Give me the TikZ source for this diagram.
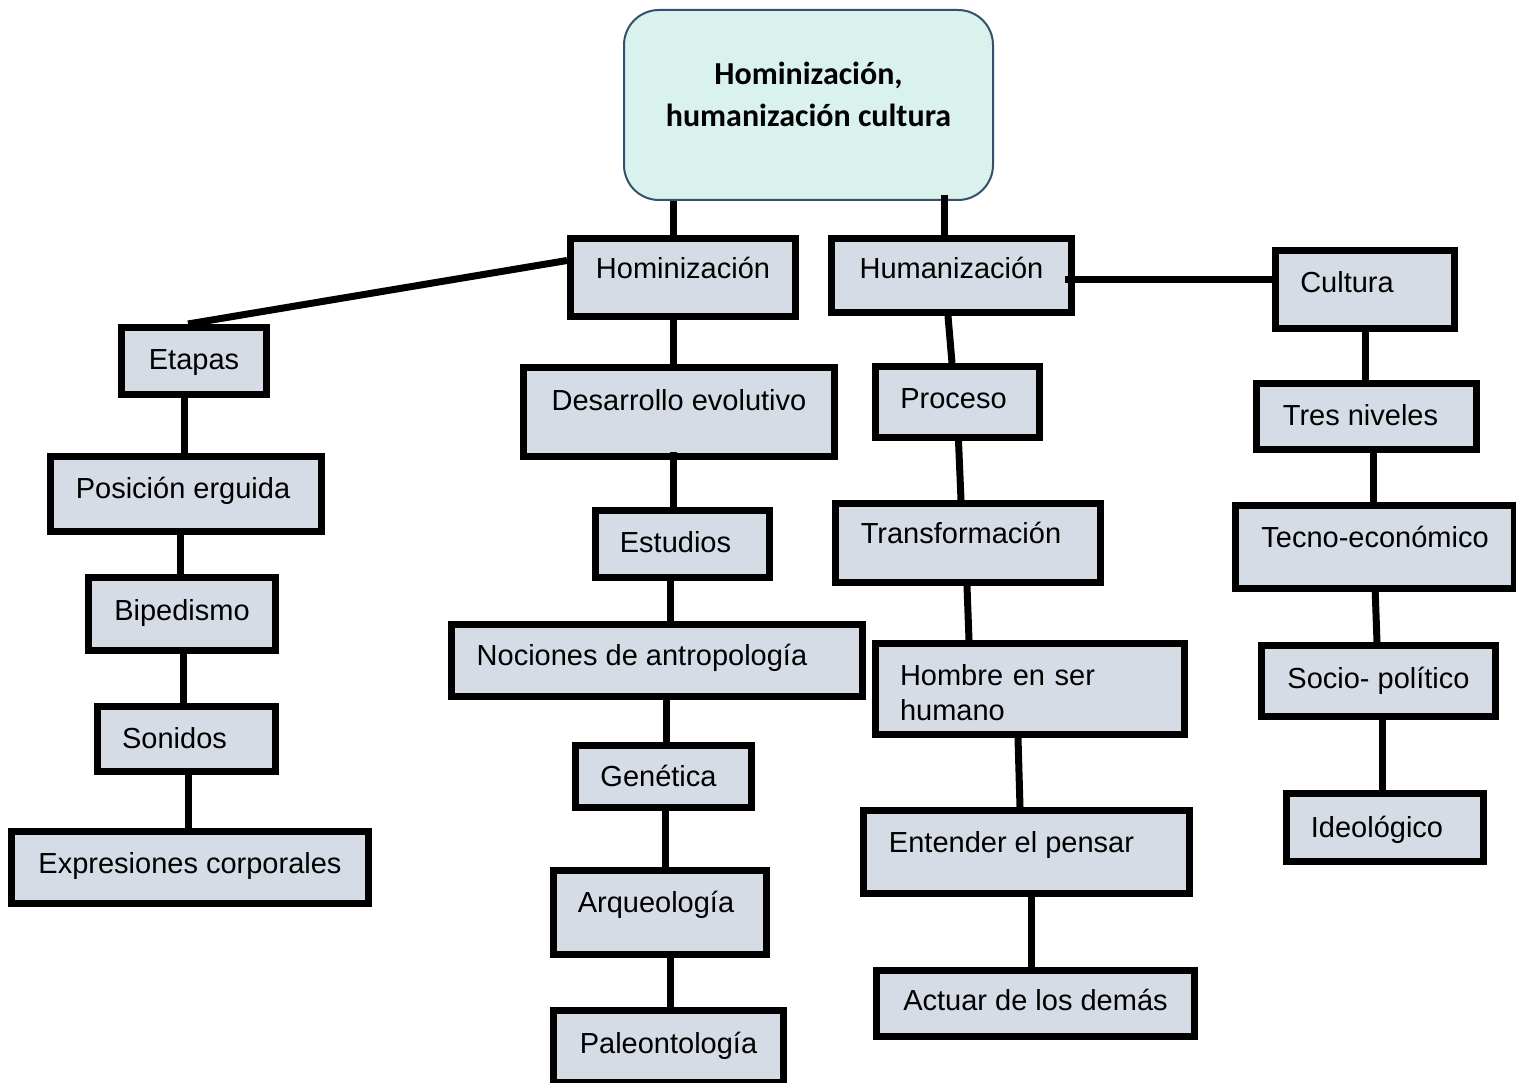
\documentclass[tikz,border=0pt]{standalone}
\usepackage{fontspec}
\setmainfont{Liberation Sans}
\newfontfamily\titlefont{Carlito}
\definecolor{boxfill}{HTML}{D6DCE5}
\definecolor{topfill}{HTML}{DAF2EE}
\definecolor{topline}{HTML}{34506A}

\begin{document}
\begin{tikzpicture}[x=1pt, y=-1pt,
    main node/.style={rectangle, draw=black, fill=boxfill, line width=7pt, inner sep=0pt,
        font=\fontsize{29}{35}\selectfont},
    tdepth/.style={text height=21pt, text depth=#1},
    title node/.style={rectangle, rounded corners=35pt, draw=topline, fill=topfill, line width=2pt,
        inner sep=0pt, align=center, font=\titlefont\bfseries\fontsize{32}{42}\selectfont}]

    \useasboundingbox (0,0) rectangle (1516,1083);

    \node[title node, minimum width=369pt, minimum height=190pt] (main) at (808.5,105)
        {Hominización,\\humanización cultura\rule[-22pt]{0pt}{22pt}};

    % hominizacion
    \node[main node, minimum width=225pt, minimum height=78pt, tdepth=18pt] (hom) at (683,277.5) {Hominización};
    \node[main node, minimum width=145pt, minimum height=67pt, tdepth=3pt] (eta) at (194,361) {Etapas};
    \node[main node, minimum width=271pt, minimum height=75pt, tdepth=13pt] (pos) at (186,494) {Posición erguida\hspace*{6pt}};
    \node[main node, minimum width=187pt, minimum height=73pt, tdepth=9pt] (bip) at (182,614) {Bipedismo};
    \node[main node, minimum width=178pt, minimum height=65pt, tdepth=3pt] (son) at (186.5,739) {Sonidos\hspace*{24pt}};
    \node[main node, minimum width=357pt, minimum height=72pt, tdepth=10pt] (expr) at (190,867.5) {Expresiones corporales};
    \node[main node, minimum width=311pt, minimum height=89pt, tdepth=25pt] (des) at (679,412) {Desarrollo evolutivo};
    \node[main node, minimum width=174pt, minimum height=67pt, tdepth=5pt] (est) at (682.5,544) {Estudios\hspace*{14pt}};
    \node[main node, minimum width=411pt, minimum height=72pt, tdepth=12pt] (noc) at (657,660.5) {Nociones de antropología\hspace*{30pt}};
    \node[main node, minimum width=176pt, minimum height=62pt, tdepth=2pt] (gen) at (663.5,776.5) {Genética\hspace*{10pt}};
    \node[main node, minimum width=213pt, minimum height=84pt, tdepth=22pt] (arq) at (660,912.5) {Arqueología\hspace*{8pt}};
    \node[main node, minimum width=230pt, minimum height=72pt, tdepth=8pt] (pal) at (668.5,1046.5) {Paleontología};

    % humanizacion
    \node[main node, minimum width=240pt, minimum height=74pt, tdepth=14pt] (hum) at (951.5,275.5) {Humanización};
    \node[main node, minimum width=164pt, minimum height=71pt, tdepth=9pt] (pro) at (957.5,402) {Proceso\hspace*{8pt}};
    \node[main node, minimum width=265pt, minimum height=79pt, tdepth=21pt] (tra) at (968,543) {Transformación\hspace*{14pt}};
    \node[main node, minimum width=309pt, minimum height=91pt, align=left, text width=260pt] (hsh) at (1030,689) {\rule{0pt}{29pt}Hombre en ser\\humano};
    \node[main node, minimum width=326pt, minimum height=83pt, tdepth=21pt] (ent) at (1026.5,852) {Entender el pensar\hspace*{30pt}};
    \node[main node, minimum width=318pt, minimum height=66pt, tdepth=8pt] (act) at (1035.5,1003.5) {Actuar de los demás};

    % cultura
    \node[main node, minimum width=179pt, minimum height=78pt, tdepth=14pt] (cul) at (1365,289.5) {Cultura\hspace*{36pt}};
    \node[main node, minimum width=220pt, minimum height=66pt, tdepth=4pt] (tres) at (1366.5,416.5) {Tres niveles\hspace*{12pt}};
    \node[main node, minimum width=279pt, minimum height=83pt, tdepth=21pt] (tec) at (1375,547) {Tecno-económico};
    \node[main node, minimum width=234pt, minimum height=71pt, tdepth=7pt] (soc) at (1378.5,681) {Socio- político};
    \node[main node, minimum width=197pt, minimum height=68pt, tdepth=2pt] (ideo) at (1385,827.5) {Ideológico\hspace*{16pt}};

    \path[line width=7pt]
        ([xshift=-135.5pt]main.south) edge ([xshift=-10pt]hom.north)
        ([xshift=135.5pt, yshift=6pt]main.south) edge ([xshift=-7.5pt]hum.north)
        ([yshift=17pt]hom.west) edge ([xshift=-6pt]eta.north)
        ([xshift=-10pt]hom.south) edge ([xshift=-6pt]des.north)
        ([xshift=-6pt, yshift=8pt]des.south) edge ([xshift=-9.5pt]est.north)
        ([xshift=-12.5pt, yshift=6pt]est.south) edge ([xshift=13pt]noc.north)
        ([xshift=9pt]noc.south) edge ([xshift=2.5pt]gen.north)
        ([xshift=1.5pt]gen.south) edge ([xshift=5pt]arq.north)
        ([xshift=10pt]arq.south) edge ([xshift=1.5pt]pal.north)
        ([xshift=-10pt, yshift=6pt]eta.south) edge ([xshift=-2pt]pos.north)
        ([xshift=-6pt]pos.south) edge ([xshift=-2pt]bip.north)
        ([xshift=1pt]bip.south) edge ([xshift=-3.5pt]son.north)
        ([xshift=1.5pt]son.south) edge ([xshift=-2pt]expr.north)
        ([xshift=-3.5pt]hum.south) edge ([xshift=-5.5pt]pro.north)
        ([xshift=1pt]pro.south) edge ([xshift=-7pt]tra.north)
        ([xshift=-1pt]tra.south) edge ([xshift=-61pt]hsh.north)
        ([xshift=-12pt]hsh.south) edge ([xshift=-6.5pt]ent.north)
        ([xshift=4.5pt]ent.south) edge ([xshift=-4.5pt]act.north)
        ([xshift=-10pt, yshift=-4.5pt]hum.east) edge ([yshift=9.5pt]cul.west)
        (cul.south) edge ([xshift=-1.5pt]tres.north)
        ([xshift=6.5pt]tres.south) edge ([xshift=-2pt]tec.north)
        ([yshift=6pt]tec.south) edge ([xshift=-1.5pt]soc.north)
        ([xshift=3.5pt]soc.south) edge ([xshift=-3pt]ideo.north);
\end{tikzpicture}
\end{document}
